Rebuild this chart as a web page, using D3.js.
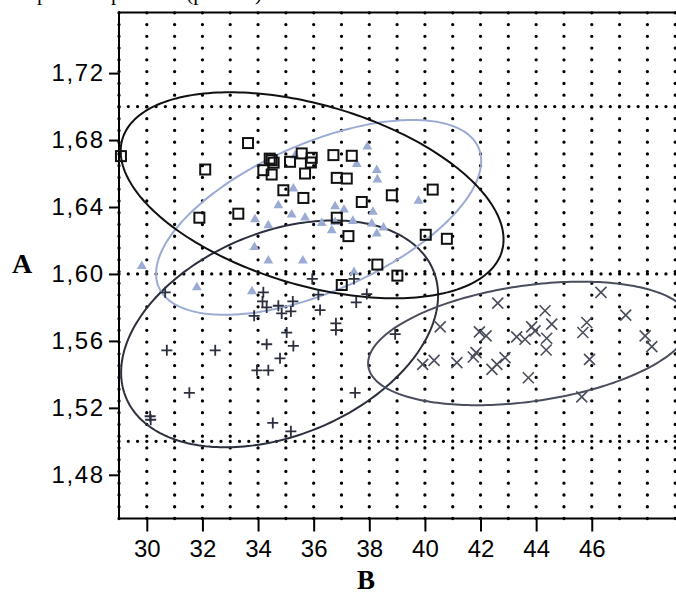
<!DOCTYPE html>
<html>
<head>
<meta charset="utf-8">
<script src="https://cdn.jsdelivr.net/npm/d3@7"></script>
<style>
  html, body { margin: 0; padding: 0; background: #fff; }
  svg { display: block; }
</style>
</head>
<body>
<svg id="chart" width="676" height="596"></svg>
<script>
// ---- data -------------------------------------------------------------
const xTicks = [30, 32, 34, 36, 38, 40, 42, 44, 46];
const yTicks = [1.48, 1.52, 1.56, 1.60, 1.64, 1.68, 1.72];
const refLines = [1.50, 1.60, 1.70];

// group 1: open squares [B, A]
const squares = [
  [29.07, 1.6704], [33.64, 1.6782], [32.10, 1.6624], [34.49, 1.6680], [34.56, 1.6665],
  [34.42, 1.6689], [34.19, 1.6620], [34.49, 1.6594], [35.15, 1.6670], [35.57, 1.6720],
  [35.93, 1.6694], [35.90, 1.6666], [35.69, 1.6600], [36.71, 1.6710], [37.37, 1.6706],
  [34.91, 1.6500], [35.63, 1.6454], [36.83, 1.6574], [37.19, 1.6570], [37.73, 1.6430],
  [38.81, 1.6470], [40.28, 1.6504], [31.89, 1.6336], [33.29, 1.6360], [36.83, 1.6336],
  [37.25, 1.6226], [40.03, 1.6234], [40.79, 1.6210], [38.29, 1.6056], [39.01, 1.5990],
  [37.01, 1.5934]
];

// group 2: filled triangles
const triangles = [
  [29.82, 1.6046], [33.89, 1.6326], [34.37, 1.6290], [34.73, 1.6410], [35.21, 1.6354],
  [35.27, 1.6510], [35.33, 1.6706], [33.87, 1.6160], [34.37, 1.6080], [37.93, 1.6760],
  [37.55, 1.6656], [38.27, 1.6620], [38.29, 1.6564], [39.77, 1.6436], [36.77, 1.6404],
  [37.09, 1.6384], [38.13, 1.6370], [35.69, 1.6336], [36.29, 1.6304], [36.77, 1.6310],
  [37.41, 1.6316], [36.65, 1.6260], [38.09, 1.6300], [38.51, 1.6276], [38.27, 1.6240],
  [35.61, 1.6080], [37.45, 1.6010], [31.80, 1.5920], [33.78, 1.5896]
];

// group 3: plus signs
const pluses = [
  [30.66, 1.5890], [34.19, 1.5890], [34.16, 1.5836], [34.31, 1.5800], [34.73, 1.5810],
  [35.25, 1.5836], [34.85, 1.5764], [35.18, 1.5776], [33.86, 1.5750], [35.95, 1.5970],
  [36.17, 1.5876], [36.23, 1.5784], [37.45, 1.5970], [37.53, 1.5830], [37.91, 1.5880],
  [36.80, 1.5705], [36.80, 1.5665], [35.03, 1.5650], [34.31, 1.5580], [35.27, 1.5570],
  [34.79, 1.5496], [33.96, 1.5424], [34.37, 1.5424], [30.72, 1.5544], [32.46, 1.5544],
  [31.53, 1.5290], [30.12, 1.5150], [30.14, 1.5129], [37.49, 1.5290], [34.53, 1.5110],
  [35.18, 1.5060], [38.93, 1.5640]
];

// group 4: crosses
const crosses = [
  [46.33, 1.5890], [42.62, 1.5826], [44.32, 1.5780], [47.22, 1.5754], [44.56, 1.5700],
  [45.82, 1.5710], [45.68, 1.5650], [43.84, 1.5684], [43.96, 1.5660], [43.30, 1.5624],
  [43.60, 1.5610], [44.38, 1.5616], [44.36, 1.5546], [40.55, 1.5684], [41.96, 1.5654],
  [42.20, 1.5630], [47.92, 1.5630], [48.16, 1.5566], [45.92, 1.5490], [41.84, 1.5530],
  [41.74, 1.5504], [42.88, 1.5500], [42.59, 1.5460], [42.41, 1.5430], [41.15, 1.5470],
  [40.33, 1.5484], [39.92, 1.5460], [43.72, 1.5380], [45.64, 1.5266]
];

// confidence ellipses: centre and the two semi-axis vectors, in data units
const ellipseSquares   = { c: [35.944, 1.6470], u: [6.823, -0.03350], v: [-0.9105, -0.05163] };
const ellipseTriangles = { c: [36.178, 1.6338], u: [5.748,  0.04169], v: [ 1.058,  -0.04061] };
const ellipsePluses    = { c: [34.775, 1.5642], u: [5.529,  0.03784], v: [ 1.382,  -0.05623] };
const ellipseCrosses   = { c: [43.747, 1.5585], u: [5.782,  0.01366], v: [ 0.2909, -0.03428] };

// ---- layout -----------------------------------------------------------
const plotLeft = 119, plotRight = 675.2, plotTop = 12.5, plotBottom = 518.5;
const x = d3.scaleLinear().domain([29, 49]).range([plotLeft, plotRight]);
const y = d3.scaleLinear().domain([1.4539, 1.7562]).range([plotBottom, plotTop]);

const svg = d3.select("#chart");
const fmt = v => d3.format(".2f")(v).replace(".", ",");

const colSquare = "#111111";
const colTri = "#9cabd4";
const colPlus = "#2c303e";
const colCross = "#4a4e5c";

// heading line above the frame (only its descenders fall on the page)
svg.append("text")
  .attr("x", 0).attr("y", -0.5)
  .attr("font-family", "'Liberation Serif', 'Times New Roman', serif")
  .attr("font-size", 21)
  .attr("fill", "#000")
  .text("Temperature pressure (percent)");

svg.append("defs").append("clipPath").attr("id", "plotClip")
  .append("rect").attr("x", plotLeft).attr("y", plotTop)
  .attr("width", 676 - plotLeft).attr("height", plotBottom - plotTop);

// ---- dotted grid ------------------------------------------------------
const grid = svg.append("g");
const cols = d3.range(29, 50);
grid.selectAll("line.vdot").data(cols).join("line")
  .attr("class", "vdot")
  .attr("x1", d => x(d)).attr("x2", d => x(d))
  .attr("y1", plotBottom).attr("y2", plotTop)
  .attr("stroke", "#000").attr("stroke-width", 3.3)
  .attr("stroke-linecap", "round")
  .attr("stroke-dasharray", "0 11.76");

grid.selectAll("line.hdot").data(refLines).join("line")
  .attr("class", "hdot")
  .attr("x1", x(29)).attr("x2", 676)
  .attr("y1", d => y(d)).attr("y2", d => y(d))
  .attr("stroke", "#000").attr("stroke-width", 3.3)
  .attr("stroke-linecap", "round")
  .attr("stroke-dasharray", `0 ${(x(30) - x(29)) / 3}`);

// ---- frame and axes ---------------------------------------------------
const frame = svg.append("g").attr("stroke", "#000").attr("stroke-width", 2);
frame.append("line").attr("x1", plotLeft).attr("x2", 676).attr("y1", plotTop).attr("y2", plotTop);
frame.append("line").attr("x1", plotLeft).attr("x2", 676).attr("y1", plotBottom).attr("y2", plotBottom);
frame.append("line").attr("x1", plotLeft).attr("x2", plotLeft).attr("y1", plotTop - 1).attr("y2", plotBottom + 1);

const xAxis = d3.axisBottom(x).tickValues(xTicks).tickSize(13).tickPadding(8).tickFormat(d3.format("d"));
const gx = svg.append("g").attr("transform", `translate(0,${plotBottom})`).call(xAxis);
gx.select(".domain").remove();
gx.selectAll(".tick line").attr("stroke", "#000").attr("stroke-width", 2);
gx.selectAll(".tick text")
  .attr("font-family", "'Liberation Sans', Arial, sans-serif")
  .attr("font-size", 24).attr("fill", "#000");

const yAxis = d3.axisLeft(y).tickValues(yTicks).tickSize(10).tickPadding(6).tickFormat(fmt);
const gy = svg.append("g").attr("transform", `translate(${plotLeft},0)`).call(yAxis);
gy.select(".domain").remove();
gy.selectAll(".tick line").attr("stroke", "#000").attr("stroke-width", 2);
gy.selectAll(".tick text")
  .attr("font-family", "'Liberation Sans', Arial, sans-serif")
  .attr("font-size", 24).attr("fill", "#000")
  .attr("letter-spacing", 1.6).attr("dx", 1.6);

// axis titles
svg.append("text").attr("x", 22).attr("y", 273)
  .attr("text-anchor", "middle")
  .attr("font-family", "'Liberation Serif', 'Times New Roman', serif")
  .attr("font-weight", "bold").attr("font-size", 28).text("A");
svg.append("text").attr("x", 366).attr("y", 589)
  .attr("text-anchor", "middle")
  .attr("font-family", "'Liberation Serif', 'Times New Roman', serif")
  .attr("font-weight", "bold").attr("font-size", 27).text("B");

// ---- ellipses ---------------------------------------------------------
const ellipseLine = d3.line().curve(d3.curveLinearClosed);
function ellipsePoints(e) {
  return d3.range(0, 240).map(i => {
    const t = i / 240 * 2 * Math.PI;
    const dx = e.c[0] + e.u[0] * Math.cos(t) + e.v[0] * Math.sin(t);
    const dy = e.c[1] + e.u[1] * Math.cos(t) + e.v[1] * Math.sin(t);
    return [x(dx), y(dy)];
  });
}
const ell = svg.append("g").attr("clip-path", "url(#plotClip)").attr("fill", "none");
[
  [ellipsePluses, colPlus],
  [ellipseCrosses, colCross],
  [ellipseTriangles, colTri],
  [ellipseSquares, colSquare]
].forEach(([e, c]) => {
  ell.append("path").attr("d", ellipseLine(ellipsePoints(e)))
    .attr("stroke", c).attr("stroke-width", 2);
});

// ---- markers ----------------------------------------------------------
const marks = svg.append("g");

marks.append("g").selectAll("path").data(triangles).join("path")
  .attr("d", d3.symbol(d3.symbolTriangle, 42))
  .attr("transform", d => `translate(${x(d[0])},${y(d[1])})`)
  .attr("fill", colTri);

marks.append("g").selectAll("path").data(pluses).join("path")
  .attr("d", "M-5.5,0H5.5M0,-5.5V5.5")
  .attr("transform", d => `translate(${x(d[0])},${y(d[1])})`)
  .attr("stroke", colPlus).attr("stroke-width", 1.8).attr("fill", "none");

marks.append("g").selectAll("path").data(crosses).join("path")
  .attr("d", "M-5.5,-5.5L5.5,5.5M-5.5,5.5L5.5,-5.5")
  .attr("transform", d => `translate(${x(d[0])},${y(d[1])})`)
  .attr("stroke", colCross).attr("stroke-width", 1.6).attr("fill", "none");

marks.append("g").selectAll("rect").data(squares).join("rect")
  .attr("x", d => x(d[0]) - 5).attr("y", d => y(d[1]) - 5)
  .attr("width", 10).attr("height", 10)
  .attr("fill", "none").attr("stroke", colSquare).attr("stroke-width", 2);
</script>
</body>
</html>
